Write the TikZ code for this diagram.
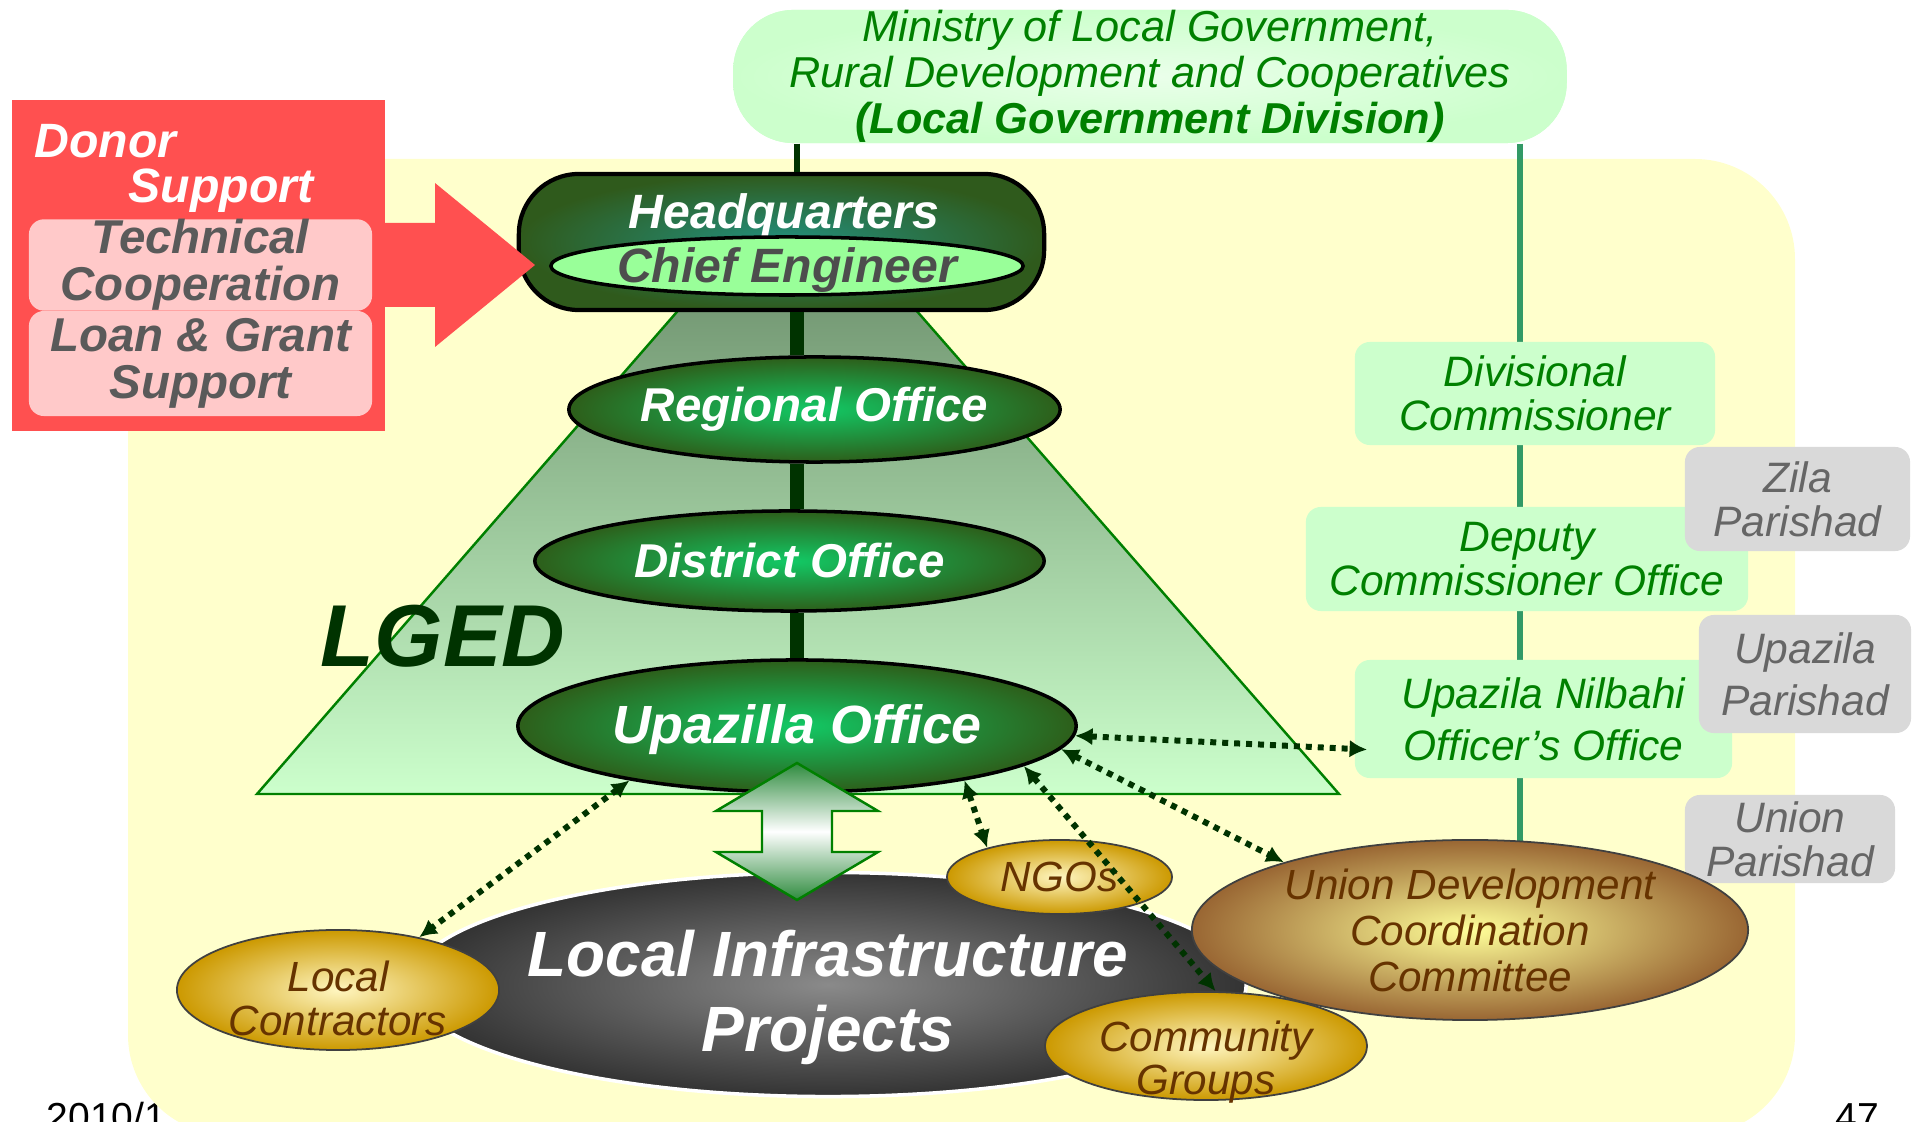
\documentclass[tikz,border=0pt]{standalone}
\usepackage{fontspec}
\setmainfont{Liberation Sans}
\usetikzlibrary{shapes.geometric,arrows.meta}

\definecolor{bgyellow}{HTML}{FFFFCC}
\definecolor{donorred}{HTML}{FF5050}
\definecolor{donorpink}{HTML}{FFC9C9}
\definecolor{donortext}{HTML}{5A5A5A}
\definecolor{mintgreen}{HTML}{CCFFCC}
\definecolor{textgreen}{HTML}{008000}
\definecolor{darkgreen}{HTML}{003300}
\definecolor{linegreen}{HTML}{339966}
\definecolor{officeouter}{HTML}{2D5E1A}
\definecolor{officeinner}{HTML}{12C965}
\definecolor{hqinner}{HTML}{23907E}
\definecolor{hqouter}{HTML}{2F5A1C}
\definecolor{chieffill}{HTML}{99FF99}
\definecolor{chieftext}{HTML}{4D4D4D}
\definecolor{triangletop}{HTML}{5E7F5E}
\definecolor{arrowgreen}{HTML}{2E8B3E}
\definecolor{parishadgray}{HTML}{D9D9D9}
\definecolor{parishadtext}{HTML}{666666}
\definecolor{goldouter}{HTML}{CC9900}
\definecolor{goldinner}{HTML}{FFF6C0}
\definecolor{brownouter}{HTML}{996633}
\definecolor{browninner}{HTML}{FFFF99}
\definecolor{browntext}{HTML}{663300}
\definecolor{lipouter}{HTML}{333333}
\definecolor{lipinner}{HTML}{8A8A8A}

\begin{document}
\begin{tikzpicture}[x=0.01cm, y=-0.01cm,
	office/.style={ellipse, draw=black, line width=1pt, inner sep=0pt, inner color=officeinner, outer color=officeouter},
	officetext/.style={text=white, font=\bfseries\itshape\fontsize{13.5}{14}\selectfont},
	greenbox/.style={rectangle, rounded corners=0.15cm, fill=mintgreen, inner sep=0pt, text=textgreen, align=center, font=\itshape\fontsize{12.1}{12.5}\selectfont},
	graybox/.style={greenbox, fill=parishadgray, text=parishadtext},
	pinkbox/.style={rectangle, rounded corners=0.15cm, fill=donorpink, inner sep=0pt, minimum width=3.43cm, text=donortext, align=center, font=\bfseries\itshape\fontsize{13.5}{13.4}\selectfont},
	goldnode/.style={ellipse, draw=black!75, line width=0.5pt, inner sep=0pt, inner color=goldinner, outer color=goldouter},
	goldtext/.style={text=browntext, align=center, font=\itshape\fontsize{12}{12.3}\selectfont},
	spine/.style={darkgreen, line width=3.7pt},
	dotlink/.style={darkgreen, line width=1.7pt, dash pattern=on 1.7pt off 1.7pt, {Latex[length=5pt,width=5pt]}-{Latex[length=5pt,width=5pt]}}]
	\useasboundingbox (0,0) rectangle (1917,1122);
	\node[anchor=base west, inner sep=0pt, font=\fontsize{11.1}{12}\selectfont] (datemark) at (46,1131) {2010/1};
	\node[anchor=base west, inner sep=0pt, font=\fontsize{11.1}{12}\selectfont] (pagemark) at (1835,1131) {47};
	\fill[bgyellow, rounded corners=1cm] (128,159) rectangle (1795,1135);

	\node[greenbox, minimum width=8.33cm, minimum height=1.33cm, rounded corners=0.6cm, inner color=white!60!mintgreen, outer color=mintgreen, font=\itshape\fontsize{12.3}{13.1}\selectfont] (ministry) at (1150,76.5) {Ministry of Local Government,\\Rural Development and Cooperatives\\\textbf{(Local Government Division)}};
	\coordinate (RightEnd) at (1520,845);
	\draw[linegreen, line width=1.7pt] (ministry.south -| RightEnd) -- (RightEnd);

	\filldraw[draw=textgreen, line width=0.7pt, top color=triangletop, bottom color=mintgreen] (797,174) -- (1339,794) -- (257,794) -- cycle;
	\node[text=darkgreen, font=\bfseries\itshape\fontsize{25}{30}\selectfont] (lged) at (443,636) {LGED};

	\node[rectangle, rounded corners=0.6cm, draw=black, line width=1.2pt, inner sep=0pt, minimum width=5.25cm, minimum height=1.36cm, inner color=hqinner, outer color=hqouter] (hq) at (781.5,242) {};
	\node[officetext, font=\bfseries\itshape\fontsize{13.7}{14}\selectfont] (hqtitle) at (784,216) {Headquarters};
	\node[ellipse, draw=black, line width=1pt, inner sep=0pt, fill=chieffill, minimum width=4.72cm, minimum height=0.58cm, label={[text=chieftext, font=\bfseries\itshape\fontsize{13.7}{14}\selectfont, yshift=-0.04cm]center:Chief Engineer}] (chief) at (787,266) {};
	\node[office, minimum width=4.91cm, minimum height=1.05cm, label={[officetext]center:Regional Office}] (regional) at (814.5,409.5) {};
	\node[office, minimum width=5.09cm, minimum height=1.00cm, label={[officetext]center:District Office}] (district) at (789.5,561) {};
	\node[office, minimum width=5.58cm, minimum height=1.32cm, label={[officetext, font=\bfseries\itshape\fontsize{15.3}{16}\selectfont, yshift=-0.04cm]center:Upazilla Office}] (upazilla) at (797,726) {};

	\coordinate (Spine) at (797,0);
	\draw[darkgreen, line width=1.8pt] (ministry.south -| Spine) -- (hq.north -| Spine);
	\draw[spine] (hq.south -| Spine) -- (regional.north -| Spine);
	\draw[spine] (regional.south -| Spine) -- (district.north -| Spine);
	\draw[spine] (district.south -| Spine) -- (upazilla.north -| Spine);

	\node[rectangle, fill=donorred, inner sep=0pt, minimum width=3.73cm, minimum height=3.31cm] (donor) at (198.5,265.5) {};
	\fill[donorred] (380,223) -- (435,223) -- (435,183) -- (535,265) -- (435,347) -- (435,307) -- (380,307) -- cycle;
	\node[pinkbox, minimum height=0.90cm] (techcoop) at (200.5,265) {Technical\\Cooperation};
	\node[pinkbox, minimum height=1.05cm] (loangrant) at (200.5,363.5) {Loan \& Grant\\Support};
	\node[anchor=west, inner sep=0pt, text=white, font=\bfseries\itshape\fontsize{13.7}{14}\selectfont] (donortitle) at (34,141) {Donor};
	\node[anchor=west, inner sep=0pt, text=white, font=\bfseries\itshape\fontsize{13.7}{14}\selectfont] (donorsub) at (128,191) {Support};

	\node[greenbox, minimum width=3.60cm, minimum height=1.03cm] (divcom) at (1535,393.5) {Divisional\\Commissioner};
	\node[greenbox, minimum width=4.42cm, minimum height=1.04cm, font=\itshape\fontsize{12.1}{10.5}\selectfont] (deputy) at (1527,559) {Deputy\\Commissioner Office};
	\node[greenbox, minimum width=3.77cm, minimum height=1.18cm, font=\itshape\fontsize{12.1}{14.8}\selectfont] (nilbahi) at (1543.5,719) {Upazila Nilbahi\\Officer’s Office};
	\node[graybox, minimum width=2.25cm, minimum height=1.04cm] (zila) at (1797.5,499) {Zila\\Parishad};
	\node[graybox, minimum width=2.12cm, minimum height=1.18cm, font=\itshape\fontsize{12.1}{14.8}\selectfont] (upazilap) at (1805,674) {Upazila\\Parishad};
	\node[graybox, minimum width=2.10cm, minimum height=0.88cm] (unionp) at (1790,839) {Union\\Parishad};

	\node[ellipse, draw=white, line width=1pt, inner sep=0pt, inner color=lipinner, outer color=lipouter, minimum width=8.36cm, minimum height=2.24cm, label={[text=white, align=center, font=\bfseries\itshape\fontsize{18.2}{21.3}\selectfont, yshift=-0.13cm]center:Local Infrastructure\\Projects}] (lip) at (828,984.5) {};
	\node[goldnode, minimum width=3.22cm, minimum height=1.20cm, label={[goldtext, yshift=-0.085cm]center:Local\\Contractors}] (contractors) at (338,990) {};
	\node[goldnode, minimum width=2.25cm, minimum height=0.74cm, label={[goldtext]center:NGOs}] (ngos) at (1059.5,877) {};
	\node[goldnode, minimum width=3.22cm, minimum height=1.08cm, label={[goldtext, yshift=-0.16cm]center:Community\\Groups}] (community) at (1206,1046) {};
	\node[goldnode, inner color=browninner, outer color=brownouter, minimum width=5.56cm, minimum height=1.80cm, label={[goldtext, font=\itshape\fontsize{12}{13.1}\selectfont]center:Union Development\\Coordination\\Committee}] (udcc) at (1470,930) {};

	\filldraw[draw=textgreen, line width=0.7pt, top color=arrowgreen, bottom color=arrowgreen, middle color=white] (797,763) -- (878,811) -- (832,811) -- (832,852) -- (878,852) -- (797,900) -- (716,852) -- (762,852) -- (762,811) -- (716,811) -- cycle;

	\draw[dotlink, shorten >=-0.13cm] (upazilla.-2) -- (nilbahi.-171);
	\draw[dotlink] (upazilla.-162) -- (contractors.33);
	\draw[dotlink] (upazilla.-18) -- (ngos.158);
	\draw[dotlink] (upazilla.-10) -- (community.80);
	\draw[dotlink] (upazilla.-5) -- (udcc.160);
\end{tikzpicture}
\end{document}
